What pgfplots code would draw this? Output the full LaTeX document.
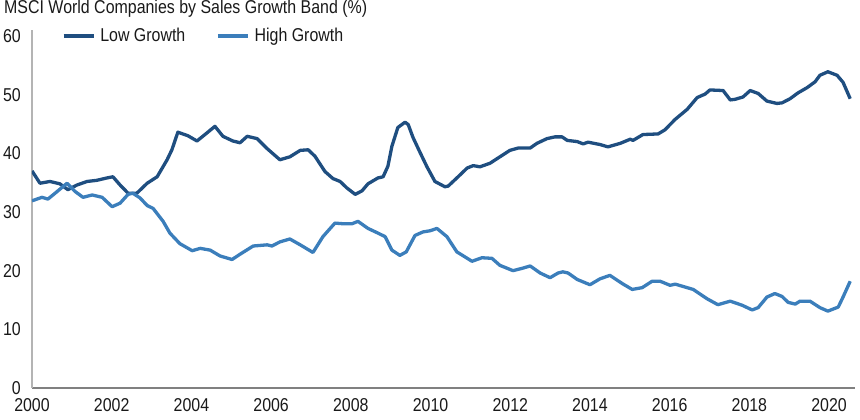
\documentclass[border=0pt]{standalone}
\usepackage{fontspec}
\setmainfont[FakeStretch=0.857]{Liberation Sans}
\usepackage{pgfplots}
\pgfplotsset{compat=1.18}
\definecolor{lowc}{RGB}{31,78,128}
\definecolor{highc}{RGB}{59,126,187}
\definecolor{txt}{RGB}{25,25,25}
\begin{document}
\begin{tikzpicture}[font=\fontsize{18.6pt}{22pt}\selectfont]
\begin{axis}[
  at={(0pt,0pt)}, anchor=south west,
  scale only axis, width=823pt, height=357.9pt,
  xmin=2000, xmax=2020.65, ymin=0, ymax=61,
  axis x line*=bottom, axis y line*=left,
  x axis line style={-, draw={rgb,255:red,128;green,128;blue,128}, line width=1.3pt},
  y axis line style={-, draw={rgb,255:red,180;green,180;blue,180}, line width=2pt},
  xtick={2000,2002,...,2020}, ytick={0,10,...,60},
  major tick length=0pt,
  /pgf/number format/assume math mode=true,
  xticklabel style={/pgf/number format/1000 sep={}, anchor=north, inner sep=0pt, yshift=-10pt},
  yticklabel style={anchor=east, inner sep=0pt, xshift=-11pt},
  tick label style={font=\fontsize{18.6pt}{22pt}\selectfont, text=txt},
  title={MSCI World Companies by Sales Growth Band (\%)},
  title style={at={(-0.034,1.031)}, anchor=base west, inner sep=0pt, text=txt, font=\fontsize{18.6pt}{22pt}\selectfont},
  legend columns=2,
  legend style={at={(0.03645,0.98352)}, anchor=west, draw=none, fill=none, inner sep=0pt, outer sep=0pt,
    nodes={inner sep=0pt, text=txt},
    /tikz/every odd column/.append style={column sep=5pt},
    /tikz/every even column/.append style={column sep=31pt},
    font=\fontsize{18.6pt}{22pt}\selectfont},
  legend image code/.code={\draw[#1] (0pt,0pt) -- (30pt,0pt);},
]
\addplot[lowc, line width=3.3pt, line join=round] coordinates {
(2000.00,37.0) (2000.20,34.9) (2000.45,35.2) (2000.70,34.8) (2000.90,33.8)
(2001.13,34.6) (2001.38,35.2) (2001.63,35.4) (2001.88,35.8) (2002.03,36.0)
(2002.21,34.6) (2002.41,33.2) (2002.63,33.2) (2002.89,34.9) (2003.14,36.0)
(2003.39,38.9) (2003.51,40.6) (2003.66,43.6) (2003.91,43.0) (2004.14,42.1)
(2004.34,43.2) (2004.59,44.6) (2004.79,42.9) (2005.04,42.1) (2005.22,41.8)
(2005.40,42.9) (2005.65,42.5) (2005.90,40.8) (2006.22,38.9) (2006.47,39.4)
(2006.73,40.5) (2006.93,40.6) (2007.10,39.5) (2007.35,36.9) (2007.55,35.7)
(2007.73,35.2) (2007.90,34.1) (2008.11,33.0) (2008.28,33.6) (2008.43,34.8)
(2008.68,35.8) (2008.81,36.0) (2008.93,37.8) (2009.03,41.2) (2009.18,44.4)
(2009.36,45.3) (2009.44,44.9) (2009.56,42.7) (2009.74,40.1) (2009.91,37.7)
(2010.11,35.2) (2010.36,34.3) (2010.44,34.4) (2010.66,35.8) (2010.92,37.5)
(2011.07,37.9) (2011.24,37.7) (2011.49,38.3) (2011.74,39.4) (2011.99,40.5)
(2012.20,40.9) (2012.50,40.9) (2012.67,41.7) (2012.92,42.5) (2013.12,42.8)
(2013.30,42.8) (2013.43,42.2) (2013.68,42.0) (2013.83,41.6) (2013.95,41.9)
(2014.25,41.5) (2014.45,41.1) (2014.76,41.7) (2015.01,42.4) (2015.08,42.2)
(2015.33,43.2) (2015.71,43.3) (2015.88,44.0) (2016.14,45.8) (2016.44,47.5)
(2016.69,49.5) (2016.89,50.1) (2017.01,50.8) (2017.34,50.7) (2017.52,49.1)
(2017.64,49.2) (2017.84,49.6) (2018.02,50.7) (2018.22,50.2) (2018.44,48.9)
(2018.69,48.5) (2018.82,48.6) (2019.02,49.3) (2019.22,50.3) (2019.45,51.2)
(2019.65,52.2) (2019.77,53.3) (2019.97,53.9) (2020.20,53.3) (2020.35,52.1)
(2020.53,49.3)
};
\addlegendentry{Low Growth}
\addplot[highc, line width=3.3pt, line join=round] coordinates {
(2000.00,31.9) (2000.25,32.5) (2000.40,32.2) (2000.58,33.2) (2000.88,34.9)
(2001.08,33.5) (2001.28,32.5) (2001.51,32.9) (2001.76,32.5) (2002.01,30.9)
(2002.21,31.5) (2002.41,33.0) (2002.53,33.2) (2002.71,32.4) (2002.89,31.1)
(2003.04,30.6) (2003.29,28.4) (2003.46,26.4) (2003.71,24.6) (2004.02,23.4)
(2004.22,23.8) (2004.47,23.5) (2004.72,22.5) (2005.02,21.9) (2005.22,22.8)
(2005.55,24.2) (2005.90,24.4) (2006.02,24.2) (2006.22,24.9) (2006.47,25.4)
(2006.73,24.4) (2007.05,23.1) (2007.30,25.8) (2007.60,28.1) (2007.80,28.0)
(2008.03,28.0) (2008.18,28.4) (2008.43,27.2) (2008.68,26.4) (2008.86,25.8)
(2009.03,23.5) (2009.23,22.6) (2009.39,23.2) (2009.61,26.0) (2009.81,26.6)
(2009.99,26.8) (2010.16,27.2) (2010.41,25.8) (2010.66,23.2) (2011.04,21.6)
(2011.29,22.2) (2011.54,22.1) (2011.74,20.9) (2012.07,20.0) (2012.30,20.4)
(2012.50,20.8) (2012.75,19.6) (2013.00,18.8) (2013.20,19.6) (2013.32,19.8)
(2013.45,19.6) (2013.68,18.5) (2014.00,17.6) (2014.25,18.6) (2014.50,19.2)
(2014.81,17.8) (2015.06,16.8) (2015.31,17.1) (2015.56,18.2) (2015.76,18.2)
(2016.01,17.5) (2016.14,17.7) (2016.39,17.2) (2016.59,16.8) (2016.94,15.2)
(2017.21,14.2) (2017.52,14.8) (2017.82,14.1) (2018.07,13.3) (2018.22,13.7)
(2018.44,15.5) (2018.64,16.1) (2018.82,15.6) (2018.97,14.6) (2019.15,14.3)
(2019.27,14.8) (2019.52,14.8) (2019.77,13.7) (2019.97,13.1) (2020.23,13.8)
(2020.35,15.5) (2020.53,18.2)
};
\addlegendentry{High Growth}
\end{axis}
\pgfresetboundingbox
\path[use as bounding box] (-32pt,-32pt) rectangle (828pt,388pt);
\end{tikzpicture}
\end{document}
